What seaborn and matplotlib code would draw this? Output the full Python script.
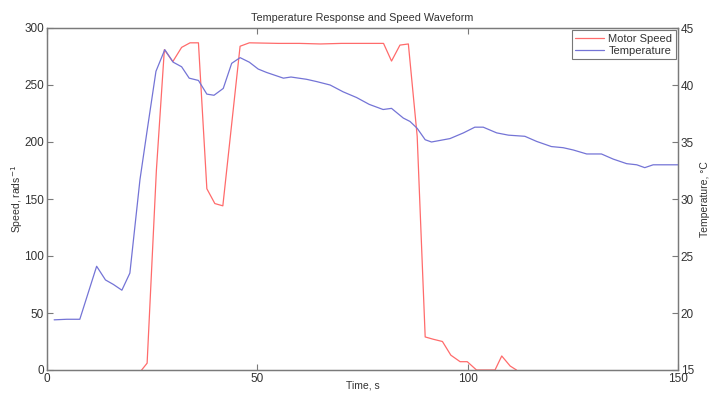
import matplotlib
matplotlib.use("Agg")
import matplotlib.pyplot as plt
import seaborn as sns
import pandas as pd

# ---- data ----
time_temp = [1.7, 4.7, 7.8, 11.8, 13.9, 15.8, 17.8, 19.7, 22.1, 23.8, 25.9, 28.0,
             30.0, 32.0, 33.8, 36.0, 38.0, 39.7, 41.9, 43.9, 45.9, 48.1, 50.2, 52.2,
             54.2, 56.2, 58.0, 61.7, 64.1, 67.3, 70.4, 73.6, 76.6, 79.9, 81.9, 84.7,
             86.3, 88.0, 89.9, 91.4, 95.8, 99.0, 101.7, 103.7, 106.9, 109.7, 113.6,
             116.4, 119.9, 122.7, 125.1, 128.3, 131.8, 134.6, 137.8, 140.2, 142.1,
             144.1, 146.5, 150.0]
temperature = [19.4, 19.45, 19.45, 24.1, 22.9, 22.5, 22.0, 23.5, 31.7, 36.0, 41.2, 43.1,
               42.0, 41.6, 40.6, 40.4, 39.2, 39.1, 39.7, 41.9, 42.4, 42.0, 41.4, 41.1,
               40.85, 40.6, 40.7, 40.5, 40.3, 40.0, 39.4, 38.9, 38.3, 37.85, 37.95, 37.1,
               36.8, 36.2, 35.2, 35.0, 35.3, 35.8, 36.3, 36.3, 35.8, 35.6, 35.5,
               35.05, 34.6, 34.5, 34.3, 33.95, 33.95, 33.5, 33.1, 33.0, 32.75,
               33.0, 33.0, 33.0]

time_speed = [22.5, 23.8, 26.0, 27.9, 29.9, 32.0, 34.0, 36.0, 38.0, 39.9, 41.8, 45.9,
              48.1, 55.0, 60.0, 65.0, 70.0, 75.0, 80.0, 81.9, 83.9, 85.9, 88.0, 89.9,
              91.8, 94.0, 96.0, 98.2, 99.9, 102.1, 106.5, 108.1, 110.1, 111.6]
speed = [0, 6, 175, 281, 270.5, 283, 287, 287, 159, 146, 144, 284,
         287, 286.5, 286.5, 286, 286.5, 286.5, 286.5, 271, 285, 286, 205, 29,
         27, 25, 13, 7.3, 7.3, 0, 0, 12.3, 3.5, 0]

x_ticks = [0, 50, 100, 150]
speed_ticks = [0, 50, 100, 150, 200, 250, 300]
temp_ticks = [15, 20, 25, 30, 35, 40, 45]

df_speed = pd.DataFrame({"Time": time_speed, "Speed": speed})
df_temp = pd.DataFrame({"Time": time_temp, "Temperature": temperature})

sns.set_style("white")
plt.rcParams["font.family"] = ["Liberation Sans", "DejaVu Sans"]

txt = "#333333"
spine_c = "#7a7a7a"
red = "#ff6b6b"
blue = "#7474d6"

fig = plt.figure(figsize=(7.18, 3.94), dpi=100)
ax = fig.add_axes([47 / 718, 1 - 370 / 394, (678 - 47) / 718, (370 - 28) / 394])
ax2 = ax.twinx()

sns.lineplot(data=df_speed, x="Time", y="Speed", ax=ax, color=red, lw=0.9,
             label="Motor Speed", legend=False)
sns.lineplot(data=df_temp, x="Time", y="Temperature", ax=ax2, color=blue, lw=0.9,
             label="Temperature", legend=False)

ax.set_xlim(0, 150)
ax.set_ylim(0, 300)
ax2.set_ylim(15, 45)
ax.set_xticks(x_ticks)
ax.set_yticks(speed_ticks)
ax2.set_yticks(temp_ticks)

for a in (ax, ax2):
    for s in a.spines.values():
        s.set_color(spine_c)
        s.set_linewidth(0.9)

ax.tick_params(axis="both", direction="in", length=4, width=0.8, color=spine_c,
               labelsize=8.5, labelcolor=txt, pad=2, top=True, bottom=True)
ax.tick_params(axis="y", right=False)
ax2.tick_params(axis="y", direction="in", length=4, width=0.8, color=spine_c,
                labelsize=8.5, labelcolor=txt, pad=2)

ax.set_xlabel("Time, s", fontsize=7.5, color=txt, va="center")
ax.xaxis.set_label_coords(0.5, -15 / 342)
ax.set_ylabel("Speed, rads$^{-1}$", fontsize=7.5, color=txt, va="center")
ax.yaxis.set_label_coords(-30 / 631, 0.5)
ax2.set_ylabel("Temperature, °C", fontsize=7.5, color=txt, va="center")
ax2.yaxis.set_label_coords(658 / 631, 0.5)
ax.set_title("Temperature Response and Speed Waveform", fontsize=7.8, color=txt, pad=5)

h1, l1 = ax.get_legend_handles_labels()
h2, l2 = ax2.get_legend_handles_labels()
leg = ax2.legend(h1 + h2, l1 + l2, loc="upper right", fontsize=8, frameon=True,
                 fancybox=False, borderpad=0.3, handlelength=2.6, labelspacing=0.2,
                 borderaxespad=0.2, handletextpad=0.4)
leg.get_frame().set_edgecolor("#555555")
leg.get_frame().set_linewidth(0.8)
for t in leg.get_texts():
    t.set_color(txt)

fig.savefig("out.png", dpi=100)
